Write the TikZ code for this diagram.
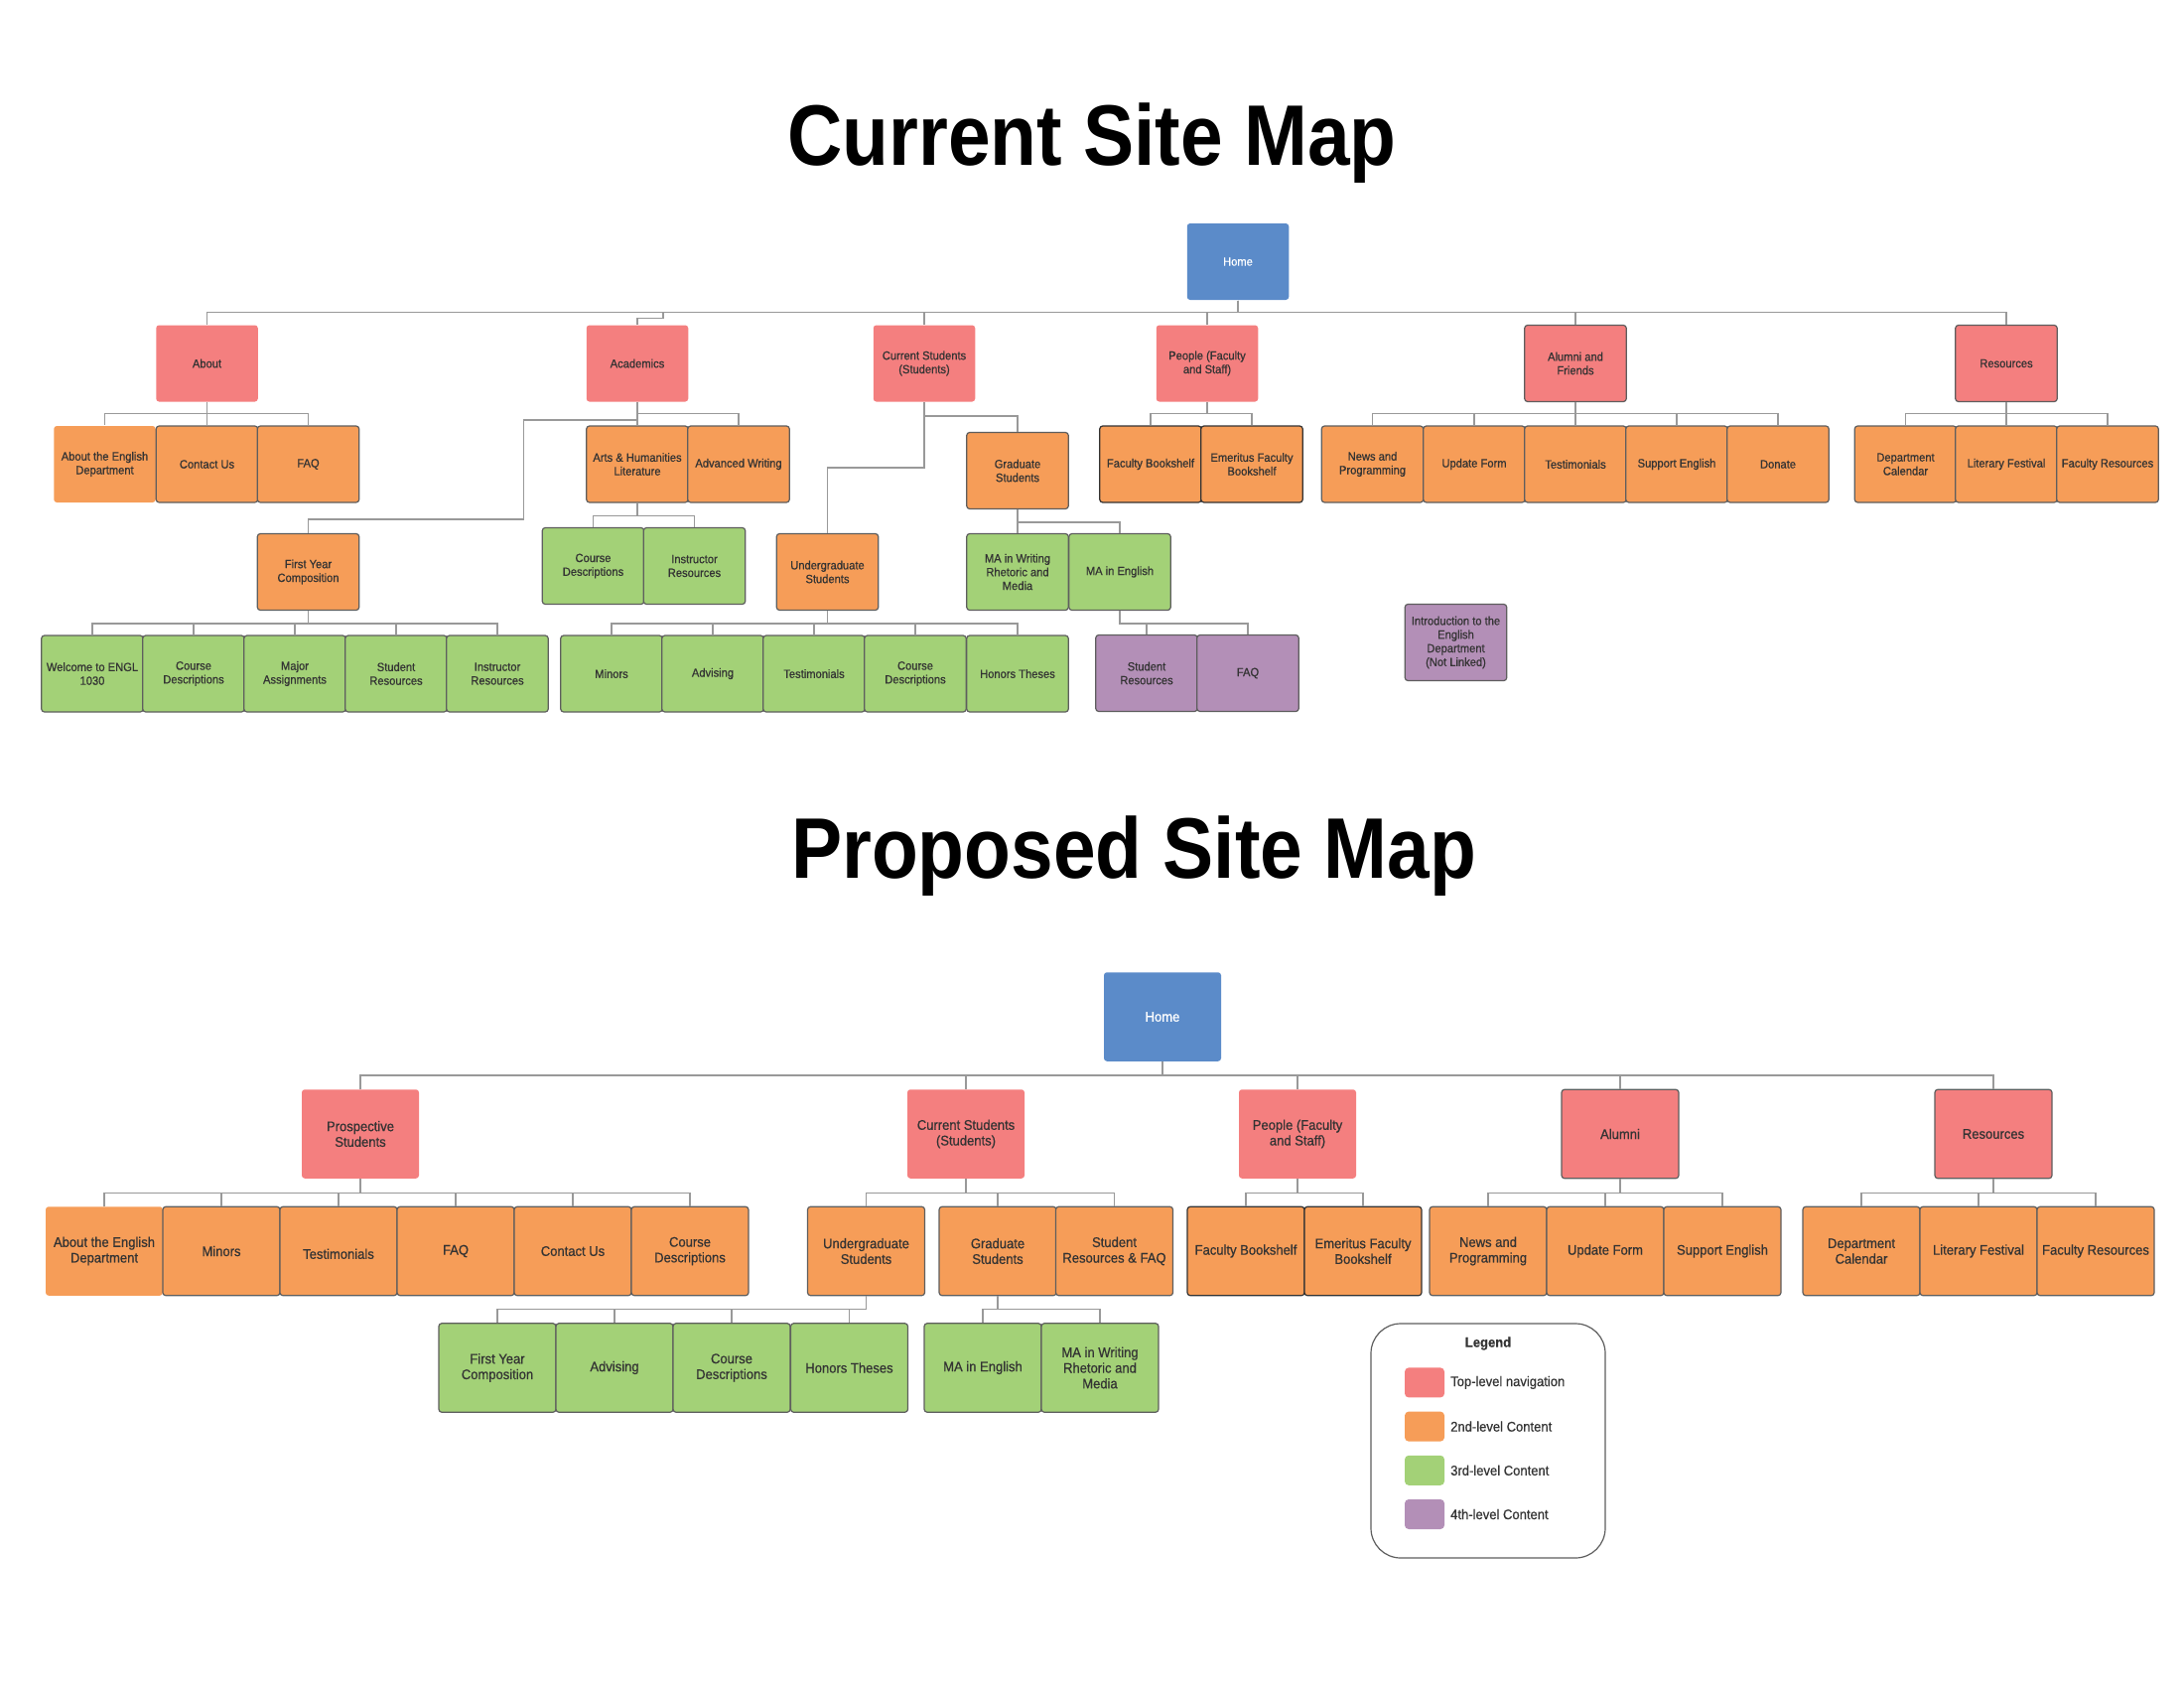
\documentclass[tikz,border=0pt]{standalone}
\usepackage{fontspec}
\setmainfont{Liberation Sans}[FakeStretch=0.93, FakeBold=0.6]
\newfontfamily\titlefont{Liberation Sans}[FakeStretch=0.885]
\usepackage{tikz}
\usetikzlibrary{calc}

\definecolor{topnav}{HTML}{F47F7F}
\definecolor{second}{HTML}{F69D58}
\definecolor{third}{HTML}{A3D177}
\definecolor{fourth}{HTML}{B38FB7}
\definecolor{homeblue}{HTML}{5B8BC9}
\definecolor{txt}{HTML}{333333}
\definecolor{frame}{HTML}{5E5E5E}
\definecolor{wire}{HTML}{999999}

\tikzset{
    page/.style={rectangle, rounded corners=3, inner sep=0, align=center,
        text=txt, draw=frame, line width=1.2},
    cur/.style={page, minimum width=102.5, minimum height=77,
        font=\fontsize{12}{13.8}\selectfont},
    prop/.style={page, minimum width=118, minimum height=89.5,
        font=\fontsize{14}{15.7}\selectfont},
    nob/.style={draw=none},
    dark/.style={draw=txt},
    home/.style={fill=homeblue, draw=none, text=white},
    lvl1/.style={fill=topnav},
    lvl2/.style={fill=second},
    lvl3/.style={fill=third},
    lvl4/.style={fill=fourth},
    link/.style={draw=wire, line width=1.3},
    elbow/.style={to path={-- ++(0,#1) -| (\tikztotarget)}},
}

\begin{document}
\begin{tikzpicture}[x=1pt,y=-1pt]
    \useasboundingbox (0,0) rectangle (2200,1700);

    % titles
    \node[anchor=base, font=\titlefont\fontsize{86.6}{90}\bfseries, text=black] (title1) at (1100,166.5) {Current Site Map};
    \node[anchor=base, font=\titlefont\fontsize{86.6}{90}\bfseries, text=black] (title2) at (1142,884) {Proposed Site Map};

    % ---------------- current site map ----------------
    \begin{scope}[every node/.style={cur}]
        \node[home] (home) at (1247,263.5) {Home};

        \node[lvl1,nob] (about)  at (208.5,366) {About};
        \node[lvl1,nob] (acad)   at (642,366)   {Academics};
        \node[lvl1,nob] (curst)  at (931,366)   {Current Students\\(Students)};
        \node[lvl1,nob] (people) at (1216,366)  {People (Faculty\\and Staff)};
        \node[lvl1]     (alumni) at (1587,366)  {Alumni and\\Friends};
        \node[lvl1]     (res)    at (2021,366)  {Resources};

        \node[lvl2,nob] (abouteng) at (105.5,467.5) {About the English\\Department};
        \node[lvl2] (contact) at (208.5,467.5) {Contact Us};
        \node[lvl2] (faq)     at (310.5,467.5) {FAQ};
        \node[lvl2] (arts)    at (642,467.5)   {Arts \& Humanities\\Literature};
        \node[lvl2] (advw)    at (744,467.5)   {Advanced Writing};
        \node[lvl2] (grad)    at (1025,474)    {Graduate\\Students};
        \node[lvl2,dark] (fbook) at (1159,467.5) {Faculty Bookshelf};
        \node[lvl2,dark] (emer)  at (1261,467.5) {Emeritus Faculty\\Bookshelf};
        \node[lvl2] (news)    at (1382.5,467.5) {News and\\Programming};
        \node[lvl2] (update)  at (1485,467.5)  {Update Form};
        \node[lvl2] (testi)   at (1587,467.5)  {Testimonials};
        \node[lvl2] (support) at (1689,467.5)  {Support English};
        \node[lvl2] (donate)  at (1791,467.5)  {Donate};
        \node[lvl2] (cal)     at (1919.5,467.5) {Department\\Calendar};
        \node[lvl2] (litfest) at (2021,467.5)  {Literary Festival};
        \node[lvl2] (facres)  at (2123,467.5)  {Faculty Resources};

        \node[lvl2] (fyc)    at (310.5,576) {First Year\\Composition};
        \node[lvl3] (acdesc) at (597.5,570) {Course\\Descriptions};
        \node[lvl3] (acinst) at (699.5,570) {Instructor\\Resources};
        \node[lvl2] (ugrad)  at (833.5,576) {Undergraduate\\Students};
        \node[lvl3] (mawrit) at (1025,576)  {MA in Writing\\Rhetoric and\\Media};
        \node[lvl3] (maeng)  at (1128,576)  {MA in English};

        \node[lvl3] (welcome) at (93,678.5)  {Welcome to ENGL\\1030};
        \node[lvl3] (fydesc)  at (195,678.5) {Course\\Descriptions};
        \node[lvl3] (major)   at (297,678.5) {Major\\Assignments};
        \node[lvl3] (fystud)  at (399,678.5) {Student\\Resources};
        \node[lvl3] (fyinst)  at (501,678.5) {Instructor\\Resources};
        \node[lvl3] (minors)  at (616,678.5) {Minors};
        \node[lvl3] (advis)   at (718,678.5) {Advising};
        \node[lvl3] (ugtest)  at (820,678.5) {Testimonials};
        \node[lvl3] (ugdesc)  at (922,678.5) {Course\\Descriptions};
        \node[lvl3] (honors)  at (1025,678.5) {Honors Theses};
        \node[lvl4] (mastud)  at (1155,678)  {Student\\Resources};
        \node[lvl4] (mafaq)   at (1257,678)  {FAQ};

        \node[lvl4] (intro) at (1466.5,647) {Introduction to the\\English\\Department\\(Not Linked)};
    \end{scope}

    \begin{scope}[link]
        \foreach \child in {about,curst,people,alumni,res}
            \draw (home.south) to[elbow=12] (\child.north);
        \draw (home.south) -- ++(0,12) -| ([xshift=26pt,yshift=6.5pt]acad.north) -| (acad.north);

        \foreach \child in {abouteng,contact,faq}
            \draw (about.south) to[elbow=11.5] (\child.north);
        \foreach \child in {arts,advw}
            \draw (acad.south) to[elbow=11.5] (\child.north);
        \draw (acad.south) -- ++(0,18) -| (527.5,523) -| (fyc.north);
        \draw (curst.south) to[elbow=14] (grad.north);
        \draw (curst.south) to[elbow=66] (ugrad.north);
        \foreach \child in {fbook,emer}
            \draw (people.south) to[elbow=11.5] (\child.north);
        \foreach \child in {news,update,testi,support,donate}
            \draw (alumni.south) to[elbow=11.5] (\child.north);
        \foreach \child in {cal,litfest,facres}
            \draw (res.south) to[elbow=11.5] (\child.north);

        \foreach \child in {acdesc,acinst}
            \draw (arts.south) to[elbow=13] (\child.north);
        \foreach \child in {welcome,fydesc,major,fystud,fyinst}
            \draw (fyc.south) to[elbow=13] (\child.north);
        \foreach \child in {minors,advis,ugtest,ugdesc,honors}
            \draw (ugrad.south) to[elbow=13] (\child.north);
        \draw (grad.south) -- (mawrit.north);
        \draw (grad.south) to[elbow=13] (maeng.north);
        \foreach \child in {mastud,mafaq}
            \draw (maeng.south) to[elbow=13] (\child.north);
    \end{scope}

    % ---------------- proposed site map ----------------
    \begin{scope}[every node/.style={prop}]
        \node[home] (phome) at (1171,1024) {Home};

        \node[lvl1,nob] (pros)    at (363,1142)  {Prospective\\Students};
        \node[lvl1,nob] (pcurst)  at (973,1142)  {Current Students\\(Students)};
        \node[lvl1,nob] (ppeople) at (1307,1142) {People (Faculty\\and Staff)};
        \node[lvl1]     (palumni) at (1632,1142) {Alumni};
        \node[lvl1]     (pres)    at (2008,1142) {Resources};

        \node[lvl2,nob] (pabout) at (105,1260) {About the English\\Department};
        \node[lvl2] (pminors)  at (223,1260)  {Minors};
        \node[lvl2] (ptesti)   at (341,1260)  {\mbox{}\\Testimonials};
        \node[lvl2] (pfaq)     at (459,1260)  {FAQ};
        \node[lvl2] (pcontact) at (577,1260)  {Contact Us};
        \node[lvl2] (pdesc)    at (695,1260)  {Course\\Descriptions};
        \node[lvl2] (pugrad)   at (872.5,1260) {Undergraduate\\Students};
        \node[lvl2] (pgrad)    at (1005,1260) {Graduate\\Students};
        \node[lvl2] (pstud)    at (1122.5,1260) {Student\\Resources \& FAQ};
        \node[lvl2,dark] (pfbook) at (1255,1260) {Faculty Bookshelf};
        \node[lvl2,dark] (pemer)  at (1373,1260) {Emeritus Faculty\\Bookshelf};
        \node[lvl2] (pnews)    at (1499,1260) {News and\\Programming};
        \node[lvl2] (pupdate)  at (1617,1260) {Update Form};
        \node[lvl2] (psupport) at (1735,1260) {Support English};
        \node[lvl2] (pcal)     at (1875,1260) {Department\\Calendar};
        \node[lvl2] (plitfest) at (1993,1260) {Literary Festival};
        \node[lvl2] (pfacres)  at (2111,1260) {Faculty Resources};

        \node[lvl3] (pfyc)    at (501,1377.5)   {First Year\\Composition};
        \node[lvl3] (padvis)  at (619,1377.5)   {Advising};
        \node[lvl3] (pugdesc) at (737,1377.5)   {Course\\Descriptions};
        \node[lvl3] (phonors) at (855.5,1377.5) {Honors Theses};
        \node[lvl3] (pmaeng)  at (990,1377.5)   {MA in English};
        \node[lvl3] (pmawrit) at (1108,1377.5)  {MA in Writing\\Rhetoric and\\Media};
    \end{scope}

    \begin{scope}[link]
        \foreach \child in {pros,pcurst,ppeople,palumni,pres}
            \draw (phome.south) to[elbow=13.5] (\child.north);
        \foreach \child in {pabout,pminors,ptesti,pfaq,pcontact,pdesc}
            \draw (pros.south) to[elbow=14] (\child.north);
        \foreach \child in {pugrad,pgrad,pstud}
            \draw (pcurst.south) to[elbow=14] (\child.north);
        \foreach \child in {pfbook,pemer}
            \draw (ppeople.south) to[elbow=14] (\child.north);
        \foreach \child in {pnews,pupdate,psupport}
            \draw (palumni.south) to[elbow=14] (\child.north);
        \foreach \child in {pcal,plitfest,pfacres}
            \draw (pres.south) to[elbow=14] (\child.north);
        \foreach \child in {pfyc,padvis,pugdesc,phonors}
            \draw (pugrad.south) to[elbow=13] (\child.north);
        \foreach \child in {pmaeng,pmawrit}
            \draw (pgrad.south) to[elbow=13] (\child.north);
    \end{scope}

    % legend
    \draw[frame, line width=1.2, rounded corners=30] (1381,1333) rectangle (1617,1569);
    \begin{scope}[every node/.style={font=\fontsize{14}{16}\selectfont, text=txt}]
        \node[font=\fontsize{14}{16}\selectfont\bfseries] (legend) at (1499,1353) {Legend};
        \foreach \col/\lab [count=\i] in {topnav/Top-level navigation,second/2nd-level Content,
                third/3rd-level Content,fourth/4th-level Content}{
            \node[fill=\col, rounded corners=4, minimum width=40, minimum height=30, inner sep=0]
                (swatch\i) at (1435,1348.2+\i*44.2) {};
            \node[anchor=west, inner sep=0] (key\i) at (1461,1348.2+\i*44.2) {\lab};
        }
    \end{scope}
\end{tikzpicture}
\end{document}
